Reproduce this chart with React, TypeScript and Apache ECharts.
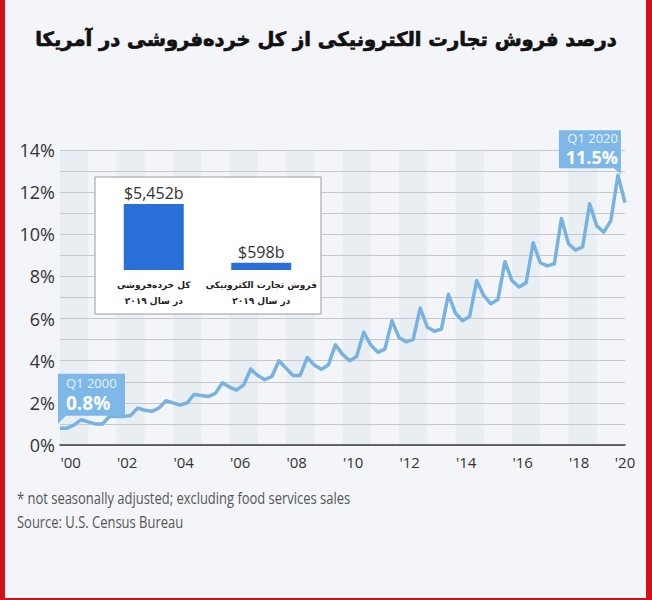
import React, { useEffect, useRef } from "react";
import * as echarts from "echarts";

// Quarterly e-commerce share of total US retail sales (%), Q1 2000 .. Q1 2020
const startYear = 2000;
const quarterlyShare = [
  0.8, 0.8, 0.95, 1.2,
  1.1, 1.0, 1.0, 1.35,
  1.35, 1.35, 1.4, 1.75,
  1.65, 1.6, 1.75, 2.1,
  2.0, 1.9, 2.0, 2.4,
  2.35, 2.3, 2.45, 2.95,
  2.75, 2.6, 2.85, 3.6,
  3.3, 3.1, 3.25, 4.0,
  3.65, 3.3, 3.3, 4.15,
  3.8, 3.6, 3.8, 4.75,
  4.3, 4.0, 4.2, 5.35,
  4.75, 4.4, 4.55, 5.9,
  5.1, 4.9, 5.0, 6.5,
  5.6, 5.4, 5.5, 7.15,
  6.25, 5.9, 6.1, 7.8,
  7.1, 6.7, 6.9, 8.7,
  7.8, 7.5, 7.7, 9.6,
  8.65, 8.5, 8.6, 10.75,
  9.55, 9.25, 9.4, 11.45,
  10.4, 10.1, 10.65, 12.8,
  11.5,
];

const xTickYears = [2000, 2002, 2004, 2006, 2008, 2010, 2012, 2014, 2016, 2018, 2020];
const xTickLabels = ["'00", "'02", "'04", "'06", "'08", "'10", "'12", "'14", "'16", "'18", "'20"];

const insetCategories = [
  "کل خرده‌فروشی\nدر سال ۲۰۱۹",
  "فروش تجارت الکترونیکی\nدر سال ۲۰۱۹",
];
const insetValues = [5452, 598]; // billions USD, 2019

const TITLE = "درصد فروش تجارت الکترونیکی از کل خرده‌فروشی در آمریکا";
const NOTE = "* not seasonally adjusted; excluding food services sales";
const SOURCE = "Source: U.S. Census Bureau";

const FONT = "'Open Sans', sans-serif";
const FA_FONT = "'DejaVu Sans', sans-serif";
const CALLOUT = "#7db8e8";

export default function App() {
  const ref = useRef<HTMLDivElement>(null);

  useEffect(() => {
    document.body.style.margin = "0";
    if (!ref.current) return;
    const chart = echarts.init(ref.current, null, { renderer: "svg" });

    const lineData = quarterlyShare.map((v, i) => [startYear + i / 4, v]);
    const lastIdx = quarterlyShare.length - 1;
    const peakIdx = lastIdx - 1;
    const lastYear = startYear + Math.floor(lastIdx / 4);
    const labelPositions = xTickYears.map((y, i) =>
      i === xTickYears.length - 1 ? y : y + 0.375
    );

    const option: any = {
      animation: false,
      backgroundColor: "#f3f5f8",
      title: {
        text: TITLE,
        left: "center",
        top: 29,
        padding: 0,
        textStyle: {
          fontFamily: FA_FONT,
          fontSize: 19.5,
          fontWeight: "bold",
          color: "#111",
          textBorderColor: "#111",
          textBorderWidth: 0.7,
        },
      },
      grid: [
        { left: 60, right: 27, top: 150, bottom: 155 },
        { left: 100, width: 215, top: 204, bottom: 330 },
      ],
      xAxis: [
        {
          type: "value",
          gridIndex: 0,
          min: 2000,
          max: 2020,
          interval: 1,
          axisLine: { show: true, lineStyle: { color: "#3a3a3a", width: 1.5 } },
          axisTick: { show: false },
          axisLabel: { show: false },
          splitLine: { show: false },
          splitArea: {
            show: true,
            areaStyle: { color: ["rgba(200,212,228,0.22)", "rgba(0,0,0,0)"] },
          },
        },
        {
          type: "value",
          gridIndex: 0,
          position: "bottom",
          min: 2000,
          max: 2020,
          axisLine: { show: false },
          axisTick: { show: false },
          splitLine: { show: false },
          axisLabel: {
            show: true,
            customValues: labelPositions,
            showMaxLabel: true,
            margin: 9,
            fontFamily: FONT,
            fontSize: 15,
            color: "#333",
            formatter: (val: number) => {
              const i = labelPositions.findIndex((p) => Math.abs(p - val) < 1e-6);
              return i >= 0 ? xTickLabels[i] : "";
            },
          },
        },
        {
          type: "category",
          gridIndex: 1,
          data: insetCategories,
          z: 3,
          axisLine: { show: false },
          axisTick: { show: false },
          axisLabel: {
            interval: 0,
            hideOverlap: false,
            fontFamily: FA_FONT,
            fontSize: 9,
            fontWeight: "bold",
            color: "#222",
            lineHeight: 16,
            margin: 7,
          },
        },
      ],
      yAxis: [
        {
          type: "value",
          gridIndex: 0,
          min: 0,
          max: 14,
          interval: 1,
          axisLine: { show: false },
          axisTick: { show: false },
          axisLabel: {
            margin: 5,
            fontFamily: FONT,
            fontSize: 18,
            color: "#333",
            formatter: (v: number) => (v % 2 === 0 ? v + "%" : ""),
          },
          splitLine: { lineStyle: { color: "#c5c7ca", width: 1 } },
        },
        {
          type: "value",
          gridIndex: 1,
          min: 0,
          max: insetValues[0],
          show: false,
        },
      ],
      series: [
        {
          type: "line",
          xAxisIndex: 0,
          yAxisIndex: 0,
          data: lineData,
          showSymbol: false,
          symbol: "none",
          lineStyle: { color: "#78b2e1", width: 3.5, join: "round" },
          z: 3,
          markPoint: {
            silent: true,
            data: [
              {
                coord: lineData[0],
                symbol: "path://M0 0H67V42H8L0 50Z",
                symbolSize: [67, 50],
                symbolOffset: [31.5, -29.5],
                itemStyle: { color: CALLOUT },
                label: {
                  show: true,
                  position: [8, 1],
                  formatter: `{a|Q1 ${startYear}}\n{b|${quarterlyShare[0]}%}`,
                  rich: {
                    a: { fontFamily: FONT, fontSize: 13, color: "#e9f3fc", lineHeight: 16 },
                    b: { fontFamily: FONT, fontSize: 19, fontWeight: "bold", color: "#fff", lineHeight: 24 },
                  },
                },
              },
              {
                coord: lineData[peakIdx],
                symbol: "path://M0 0H62V38L62 44L55 38H0Z",
                symbolSize: [62, 44],
                symbolOffset: [-28, -23],
                itemStyle: { color: CALLOUT },
                label: {
                  show: true,
                  position: [59, 0],
                  align: "right",
                  formatter: `{a|Q1 ${lastYear}}\n{b|${quarterlyShare[lastIdx]}%}`,
                  rich: {
                    a: { fontFamily: FONT, fontSize: 13, color: "#e9f3fc", lineHeight: 16, align: "right" },
                    b: { fontFamily: FONT, fontSize: 18, fontWeight: "bold", color: "#fff", lineHeight: 22, align: "right" },
                  },
                },
              },
            ],
          },
        },
        {
          type: "bar",
          xAxisIndex: 2,
          yAxisIndex: 1,
          data: insetValues,
          barWidth: 60,
          itemStyle: { color: "#2a6fd8" },
          z: 4,
          label: {
            show: true,
            position: "top",
            distance: 3,
            fontFamily: FONT,
            fontSize: 16,
            color: "#333",
            formatter: (p: any) => "$" + Number(p.value).toLocaleString("en-US") + "b",
          },
        },
      ],
      graphic: [
        {
          type: "rect",
          z: 1,
          shape: { x: 95, y: 177, width: 226, height: 137 },
          style: { fill: "#ffffff", stroke: "#9a9a9a", lineWidth: 1 },
        },
        {
          type: "text",
          z: 5,
          x: 17,
          y: 497,
          scaleX: 0.81,
          style: {
            text: NOTE,
            fontFamily: FONT,
            fontSize: 16,
            fill: "#555",
            verticalAlign: "middle",
          },
        },
        {
          type: "text",
          z: 5,
          x: 17,
          y: 521,
          scaleX: 0.81,
          style: {
            text: SOURCE,
            fontFamily: FONT,
            fontSize: 16,
            fill: "#555",
            verticalAlign: "middle",
          },
        },
        { type: "rect", z: 10, shape: { x: 0, y: 0, width: 5, height: 600 }, style: { fill: "#d3101a" } },
        { type: "rect", z: 10, shape: { x: 646, y: 0, width: 6, height: 600 }, style: { fill: "#d3101a" } },
        { type: "rect", z: 10, shape: { x: 0, y: 598, width: 652, height: 2 }, style: { fill: "#d3101a" } },
      ],
    };

    chart.setOption(option);
    return () => chart.dispose();
  }, []);

  return <div ref={ref} style={{ width: 652, height: 600 }} />;
}
